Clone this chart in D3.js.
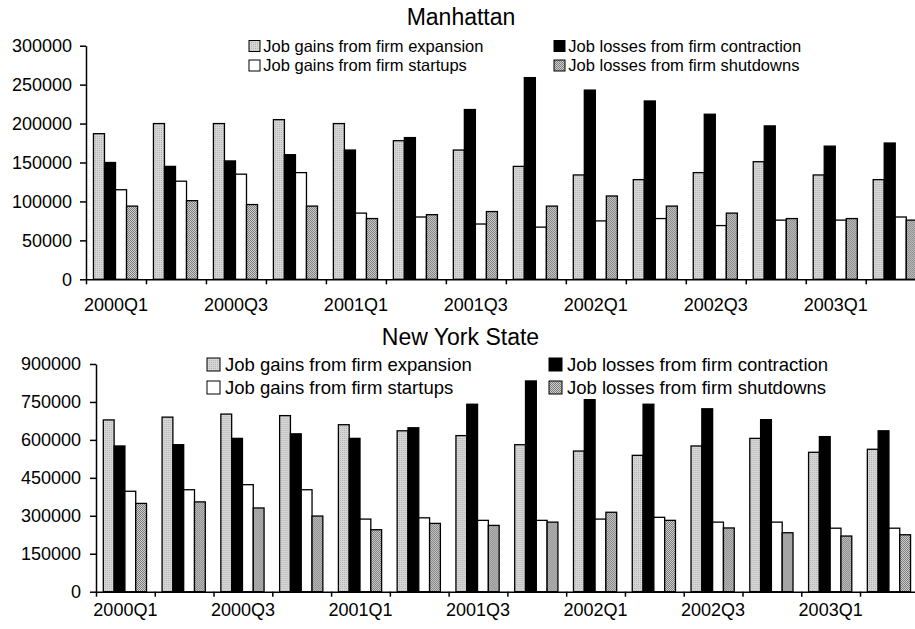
<!DOCTYPE html>
<html>
<head>
<meta charset="utf-8">
<script src="https://cdn.jsdelivr.net/npm/d3@7"></script>
<style>
  body { margin: 0; background: #fff; }
  svg { display: block; font-family: "Liberation Sans", Arial, sans-serif; }
</style>
</head>
<body>
<div id="chart"></div>
<script>
// data
const quarters = ["2000Q1", "2000Q2", "2000Q3", "2000Q4", "2001Q1", "2001Q2", "2001Q3",
                  "2001Q4", "2002Q1", "2002Q2", "2002Q3", "2002Q4", "2003Q1", "2003Q2"];
const seriesNames = ["Job gains from firm expansion", "Job losses from firm contraction",
                     "Job gains from firm startups", "Job losses from firm shutdowns"];

const manExpansion   = [187000, 200000, 200000, 205000, 200000, 178000, 166000, 145000, 134000, 128000, 137000, 151000, 134000, 128000];
const manContraction = [150000, 145000, 152000, 160000, 166000, 182000, 218000, 259000, 243000, 229000, 212000, 197000, 171000, 175000];
const manStartups    = [115000, 126000, 135000, 137000, 85000, 80000, 71000, 67000, 75000, 78000, 69000, 76000, 76000, 80000];
const manShutdowns   = [94000, 101000, 96000, 94000, 78000, 83000, 87000, 94000, 107000, 94000, 85000, 78000, 78000, 76000];
const manTicks = [0, 50000, 100000, 150000, 200000, 250000, 300000];

const nysExpansion   = [679000, 690000, 702000, 696000, 660000, 636000, 617000, 581000, 556000, 539000, 576000, 606000, 551000, 563000];
const nysContraction = [576000, 581000, 606000, 624000, 606000, 648000, 741000, 833000, 759000, 741000, 723000, 680000, 613000, 636000];
const nysStartups    = [397000, 403000, 423000, 403000, 287000, 292000, 282000, 282000, 287000, 294000, 275000, 275000, 251000, 251000];
const nysShutdowns   = [349000, 355000, 331000, 299000, 245000, 270000, 262000, 275000, 314000, 282000, 252000, 233000, 220000, 225000];
const nysTicks = [0, 150000, 300000, 450000, 600000, 750000, 900000];

const svg = d3.select("#chart").append("svg")
    .attr("width", 915)
    .attr("height", 629);

// fill patterns (Excel-like textures)
const defs = svg.append("defs");
const hatch = defs.append("pattern")
    .attr("id", "hatch").attr("width", 2).attr("height", 2)
    .attr("patternUnits", "userSpaceOnUse");
hatch.append("rect").attr("width", 2).attr("height", 2).attr("fill", "#d6d6d6");
hatch.append("rect").attr("x", 1).attr("y", 0).attr("width", 1).attr("height", 1).attr("fill", "#b4b4b4");

const dots = defs.append("pattern")
    .attr("id", "dots").attr("width", 2).attr("height", 2)
    .attr("patternUnits", "userSpaceOnUse");
dots.append("rect").attr("width", 2).attr("height", 2).attr("fill", "#d0d0d0");
dots.append("rect").attr("width", 1).attr("height", 1).attr("fill", "#7a7a7a");
dots.append("rect").attr("x", 1).attr("y", 1).attr("width", 1).attr("height", 1).attr("fill", "#7a7a7a");

const fills = ["url(#hatch)", "#000", "#fff", "url(#dots)"];

function drawPanel(cfg) {
    const values = [cfg.exp, cfg.con, cfg.sta, cfg.shu];
    const rows = quarters.map((q, i) => ({ q, v: values.map(s => s[i]) }));

    const x0 = d3.scaleBand().domain(quarters).range([cfg.left, cfg.right]).padding(0);
    const x1 = d3.scaleBand().domain(d3.range(4)).range([0, x0.bandwidth()])
        .paddingInner(0).paddingOuter(0.72).align(0.47);
    const y = d3.scaleLinear().domain([0, cfg.max]).range([cfg.bottom, cfg.top]);
    const xb = d3.scaleLinear().domain([0, quarters.length]).range([cfg.left, cfg.right]);

    const g = svg.append("g");

    // bars
    const grp = g.selectAll(".grp").data(rows).enter().append("g")
        .attr("transform", d => `translate(${x0(d.q)},0)`);
    grp.selectAll("rect").data(d => d.v).enter().append("rect")
        .attr("x", (d, i) => x1(i))
        .attr("width", x1.bandwidth())
        .attr("y", d => y(d))
        .attr("height", d => y(0) - y(d))
        .attr("fill", (d, i) => fills[i])
        .attr("stroke", "#000")
        .attr("stroke-width", 1.3);

    // y axis
    const ya = g.append("g")
        .attr("transform", `translate(${cfg.left},0)`)
        .call(d3.axisLeft(y).tickValues(cfg.ticks).tickSize(6).tickSizeOuter(0).tickPadding(cfg.tickPad).tickFormat(d3.format("d")));
    ya.selectAll("text").style("font-size", "18px").attr("fill", "#000");
    ya.selectAll("line, path").attr("stroke", "#000").attr("stroke-width", 1.5);

    // x axis: ticks at category boundaries
    const xa = g.append("g")
        .attr("transform", `translate(0,${cfg.bottom})`)
        .call(d3.axisBottom(xb).tickValues(d3.range(quarters.length + 1)).tickSize(5).tickSizeOuter(0).tickFormat(""));
    xa.selectAll("line, path").attr("stroke", "#000").attr("stroke-width", 1.5);

    // x labels on every other quarter
    const xl = g.append("g")
        .attr("transform", `translate(0,${cfg.bottom})`)
        .call(d3.axisBottom(x0).tickSize(0).tickPadding(cfg.labelPad).tickFormat((d, i) => i % 2 === 0 ? d : ""));
    xl.select(".domain").remove();
    xl.selectAll("text").style("font-size", "18px").attr("fill", "#000");

    // title
    g.append("text")
        .attr("x", cfg.titleX).attr("y", cfg.titleY)
        .attr("text-anchor", "middle")
        .style("font-size", "23px")
        .text(cfg.title);

    // legend
    const order = [[0, 0], [2, 1], [1, 0], [3, 1]];
    order.forEach(([s, row], k) => {
        const col = k < 2 ? 0 : 1;
        const bx = cfg.legX[col];
        const by = cfg.legY[row];
        g.append("rect")
            .attr("x", bx).attr("y", by - cfg.box)
            .attr("width", cfg.box).attr("height", cfg.box)
            .attr("fill", fills[s]).attr("stroke", "#000").attr("stroke-width", 1);
        g.append("text")
            .attr("x", bx + cfg.textGap).attr("y", by)
            .style("font-size", cfg.legFont + "px")
            .text(seriesNames[s]);
    });
}

drawPanel({
    title: "Manhattan", titleX: 461, titleY: 25,
    exp: manExpansion, con: manContraction, sta: manStartups, shu: manShutdowns,
    ticks: manTicks, max: 300000,
    left: 86, right: 925.7, top: 45.7, bottom: 279.3,
    tickPad: 8, labelPad: 19,
    legX: [249, 554], legY: [51.5, 71], box: 11, textGap: 14.3, legFont: 16.5
});

drawPanel({
    title: "New York State", titleX: 460.5, titleY: 345,
    exp: nysExpansion, con: nysContraction, sta: nysStartups, shu: nysShutdowns,
    ticks: nysTicks, max: 900000,
    left: 96, right: 918.8, top: 364, bottom: 591.7,
    tickPad: 9, labelPad: 12,
    legX: [207, 549], legY: [371, 394], box: 13, textGap: 18, legFont: 18.5
});
</script>
</body>
</html>
